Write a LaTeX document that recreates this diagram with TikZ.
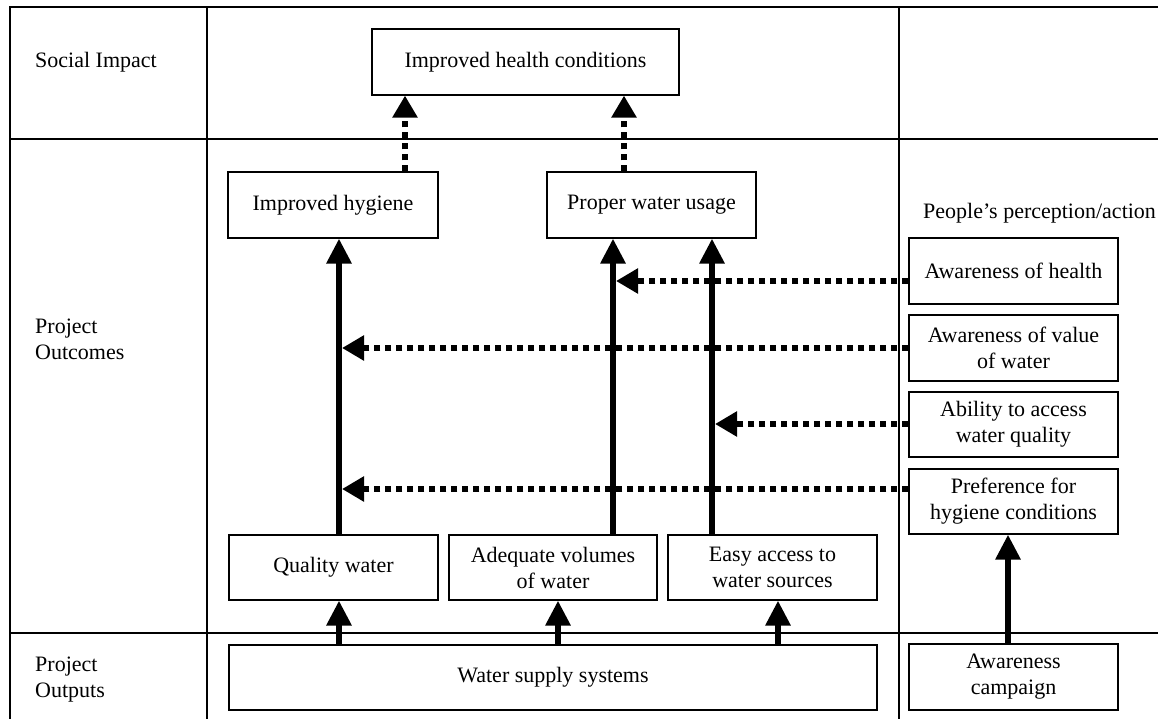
\documentclass[tikz,border=0pt]{standalone}
\usepackage{fontspec}
\setmainfont{Liberation Serif}
\usetikzlibrary{arrows.meta}
\begin{document}
\begin{tikzpicture}[x=1pt,y=-1pt,
  every node/.style={font=\fontsize{22}{26}\selectfont},
  frame/.style={line width=1.5pt},
  label/.style={anchor=west, align=left, inner sep=0pt},
  box/.style={draw, line width=1.2pt, align=center, inner sep=0pt,
              minimum width=209pt, minimum height=66pt},
  solidarrow/.style={line width=6pt, -{Triangle[length=25pt,width=24pt]}},
  dotarrow/.style={line width=6pt, dash pattern=on 6pt off 5pt,
                   -{Triangle[length=22pt,width=24pt]}},
]
\useasboundingbox (0,0) rectangle (1158,719);

% table grid
\draw[frame] (10,719) -- (10,7) -- (1158,7);
\draw[frame] (10,139) -- (1158,139);
\draw[frame] (10,633) -- (1158,633);
\draw[frame] (207,7) -- (207,719);
\draw[frame] (899,7) -- (899,719);

% row headings
\node[label] (lsoc) at (35,62) {Social Impact};
\node[label] (lout) at (35,339) {Project\\Outcomes};
\node[label] (lop)  at (35,680) {Project\\Outputs};

% impact and outcomes
\node[box, minimum width=307pt] (ihc) at (525.5,62) {Improved health conditions};
\node[box, minimum width=210pt] (ihy) at (333,205) {Improved hygiene};
\node[box] (pwu) at (651.5,205) {Proper water usage};

% outputs of the supply system
\node[box, minimum height=65pt] (qw)  at (333.5,567.5) {Quality water};
\node[box, minimum height=65pt, minimum width=208pt] (avw) at (553,567.5) {Adequate volumes\\of water};
\node[box, minimum height=65pt] (eaw) at (772.5,567.5) {Easy access to\\water sources};
\node[box, minimum height=65pt, minimum width=648pt] (wss) at (553,677.5) {Water supply systems};

% perception column
\node[label] (ppa) at (923,213) {People’s perception/action};
\node[box] (aoh) at (1013.5,271) {Awareness of health};
\node[box] (aov) at (1013.5,348) {Awareness of value\\of water};
\node[box, minimum height=65pt] (atw) at (1013.5,424.5) {Ability to access\\water quality};
\node[box, minimum height=65pt] (pfh) at (1013.5,501.5) {Preference for\\hygiene conditions};
\node[box] (awc) at (1013.5,677) {Awareness\\campaign};

% connector columns
\coordinate (cA) at (339,0);
\coordinate (cB) at (613,0);
\coordinate (cC) at (712,0);
\coordinate (cD) at (405,0);
\coordinate (cE) at (624,0);
\coordinate (cF) at (558,0);
\coordinate (cG) at (778,0);
\coordinate (cH) at (1008,0);

% dotted links to health
\draw[dotarrow] (ihy.north -| cD) -- (ihc.south -| cD);
\draw[dotarrow] (pwu.north -| cE) -- (ihc.south -| cE);

% solid links between outputs and outcomes
\draw[solidarrow] (qw.north -| cA) -- (ihy.south -| cA);
\draw[solidarrow] (avw.north -| cB) -- (pwu.south -| cB);
\draw[solidarrow] (eaw.north -| cC) -- (pwu.south -| cC);
\draw[solidarrow] (wss.north -| cA) -- (qw.south -| cA);
\draw[solidarrow] (wss.north -| cF) -- (avw.south -| cF);
\draw[solidarrow] (wss.north -| cG) -- (eaw.south -| cG);
\draw[solidarrow] (awc.north -| cH) -- (pfh.south -| cH);

% perception feeds into the outcome lines
\coordinate (hA) at (616,281);
\coordinate (hB) at (342,348);
\coordinate (hC) at (715,424);
\coordinate (hD) at (342,489);
\draw[dotarrow] (aoh.west |- hA) -- (hA);
\draw[dotarrow] (aov.west |- hB) -- (hB);
\draw[dotarrow] (atw.west |- hC) -- (hC);
\draw[dotarrow] (pfh.west |- hD) -- (hD);
\end{tikzpicture}
\end{document}
